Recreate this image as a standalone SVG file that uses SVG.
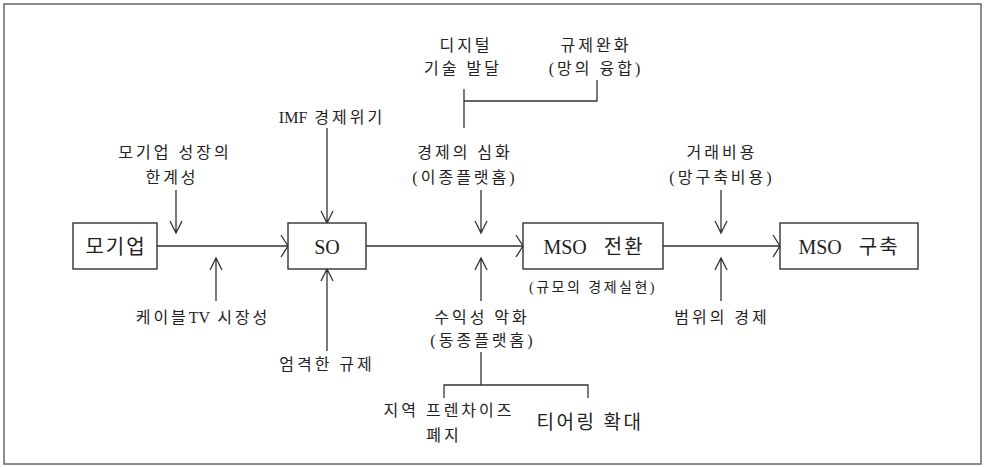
<svg xmlns="http://www.w3.org/2000/svg" width="988" height="467" viewBox="0 0 988 467">
<style>
text{font-family:"Liberation Serif","Noto Sans CJK KR",serif;fill:#222;text-anchor:middle}
.l{font-size:16px;letter-spacing:3px}
.b{font-size:20px;letter-spacing:2px;word-spacing:10px}
.s{font-size:14px;letter-spacing:2.5px}
.t{font-size:19px;letter-spacing:2.5px}
.e{letter-spacing:0}
.box{fill:#fff;stroke:#333;stroke-width:1.4}
.c{fill:none;stroke:#333;stroke-width:1.3}
</style>
<rect x="4" y="4" width="977" height="460" fill="#fff" stroke="#666" stroke-width="1.5"/>
<g id="connectors" class="c">
<path d="M157,246H288M281,235L288,246L281,257"/>
<path d="M366,246H523M516,235L523,246L516,257"/>
<path d="M663,246H780M773,235L780,246L773,257"/>
<path d="M176,190V233M170,221L176,233L182,221"/>
<path d="M216,301V258M210,270L216,258L222,270"/>
<path d="M327,128V223M321,211L327,223L333,211"/>
<path d="M327,351V269M321,281L327,269L333,281"/>
<path d="M481,190V233M475,221L481,233L487,221"/>
<path d="M481,301V258M475,270L481,258L487,270"/>
<path d="M721,190V233M715,221L721,233L727,221"/>
<path d="M721,301V258M715,270L721,258L727,270"/>
<path d="M464,89V128M464,101H597V80"/>
<path d="M481,352V385M444,398V385H588V398"/>
</g>
<g id="n-mogiup"><rect class="box" x="73" y="223" width="84" height="46"/><text class="b" x="116" y="254">모기업</text></g>
<g id="n-so"><rect class="box" x="288" y="223" width="78" height="46"/><text class="b e" x="327" y="254">SO</text></g>
<g id="n-mso1"><rect class="box" x="523" y="223" width="140" height="46"/><text class="b" x="594" y="254"><tspan class="e">MSO</tspan> 전환</text></g>
<g id="n-mso2"><rect class="box" x="780" y="223" width="138" height="46"/><text class="b" x="849" y="254"><tspan class="e">MSO</tspan> 구축</text></g>
<g id="labels">
<text class="l" x="466" y="51">디지털</text>
<text class="l" x="463" y="74">기술 발달</text>
<text class="l" x="596" y="51">규제완화</text>
<text class="l" x="596" y="74">(망의 융합)</text>
<text class="l" x="332" y="123"><tspan class="e">IMF</tspan> 경제위기</text>
<text class="l" x="175" y="158">모기업 성장의</text>
<text class="l" x="172" y="183">한계성</text>
<text class="l" x="465" y="158">경제의 심화</text>
<text class="l" x="465" y="183">(이종플랫홈)</text>
<text class="l" x="722" y="158">거래비용</text>
<text class="l" x="722" y="183">(망구축비용)</text>
<text class="s" x="593" y="292">(규모의 경제실현)</text>
<text class="l" x="203" y="323">케이블<tspan class="e">TV</tspan> 시장성</text>
<text class="l" x="327" y="370">엄격한 규제</text>
<text class="l" x="482" y="323">수익성 악화</text>
<text class="l" x="483" y="346">(동종플랫홈)</text>
<text class="l" x="722" y="323">범위의 경제</text>
<text class="l" x="449" y="416">지역 프렌차이즈</text>
<text class="l" x="444" y="441">폐지</text>
<text class="t" x="590" y="429">티어링 확대</text>
</g>
</svg>
